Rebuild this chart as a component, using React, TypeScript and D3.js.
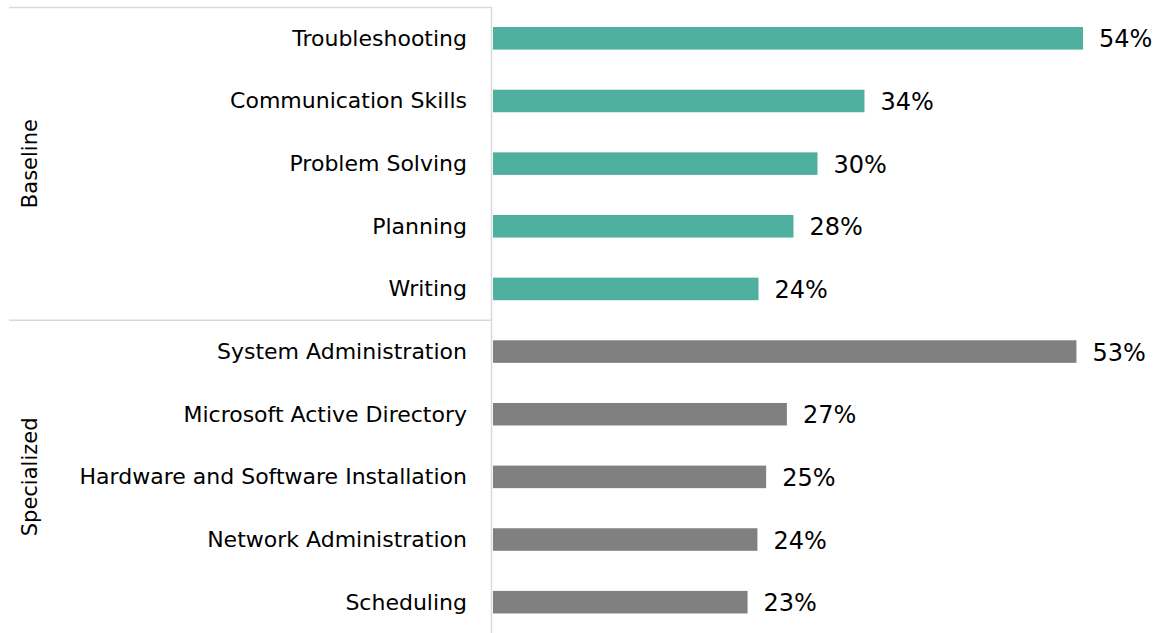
import React from "react";
import * as d3 from "d3";

const baselineSkills = ["Troubleshooting", "Communication Skills", "Problem Solving", "Planning", "Writing"];
const baselineValues = [54, 34, 29.7, 27.5, 24.3];
const baselineLabels = ["54%", "34%", "30%", "28%", "24%"];
const specializedSkills = [
  "System Administration",
  "Microsoft Active Directory",
  "Hardware and Software Installation",
  "Network Administration",
  "Scheduling",
];
const specializedValues = [53.4, 26.9, 25, 24.2, 23.3];
const specializedLabels = ["53%", "27%", "25%", "24%", "23%"];
const groups = ["Baseline", "Specialized"];

const W = 1158;
const H = 633;

export default function App() {
  const rows = [
    ...baselineSkills.map((s, i) => ({ skill: s, v: baselineValues[i], label: baselineLabels[i], group: groups[0] })),
    ...specializedSkills.map((s, i) => ({ skill: s, v: specializedValues[i], label: specializedLabels[i], group: groups[1] })),
  ];
  const top = 7;
  const axisX = 491.5;
  const y = d3.scaleBand<string>().domain(rows.map((r) => r.skill)).range([top, H + 0.5]).paddingInner(0.64).paddingOuter(0.32);
  const x = d3.scaleLinear().domain([0, 54]).range([493, 1083]);
  const font = "'Century Gothic', 'DejaVu Sans', sans-serif";
  const colors: Record<string, string> = { Baseline: "#4fb09f", Specialized: "#808080" };
  const sepY = (y(baselineSkills[4])! + y.bandwidth() + y(specializedSkills[0])!) / 2;
  const groupCenter = (names: string[]) => (y(names[0])! + y(names[names.length - 1])! + y.bandwidth()) / 2;

  return (
    <svg width={W} height={H} style={{ position: "absolute", left: 0, top: 0, background: "#fff" }} fontFamily={font}>
      <line x1={9} x2={axisX} y1={top + 0.5} y2={top + 0.5} stroke="#d9d9d9" strokeWidth={1.5} />
      <line x1={9} x2={axisX} y1={sepY} y2={sepY} stroke="#d9d9d9" strokeWidth={1.5} />
      <line x1={axisX} x2={axisX} y1={top} y2={H} stroke="#d9d9d9" strokeWidth={1.5} />
      {rows.map((r) => (
        <g key={r.skill}>
          <rect x={x(0)} y={y(r.skill)} width={x(r.v) - x(0)} height={y.bandwidth()} fill={colors[r.group]} />
          <text x={467} y={y(r.skill)! + y.bandwidth() / 2} textAnchor="end" dominantBaseline="central" fontSize={22} fill="#000">
            {r.skill}
          </text>
          <text x={x(r.v) + 16} y={y(r.skill)! + y.bandwidth() / 2 + 1} textAnchor="start" dominantBaseline="central" fontSize={24} fill="#000">
            {r.label}
          </text>
        </g>
      ))}
      <text transform={`translate(37,${groupCenter(baselineSkills)}) rotate(-90)`} textAnchor="middle" fontSize={21} fill="#000">
        {groups[0]}
      </text>
      <text transform={`translate(37,${groupCenter(specializedSkills)}) rotate(-90)`} textAnchor="middle" fontSize={21} fill="#000">
        {groups[1]}
      </text>
    </svg>
  );
}
